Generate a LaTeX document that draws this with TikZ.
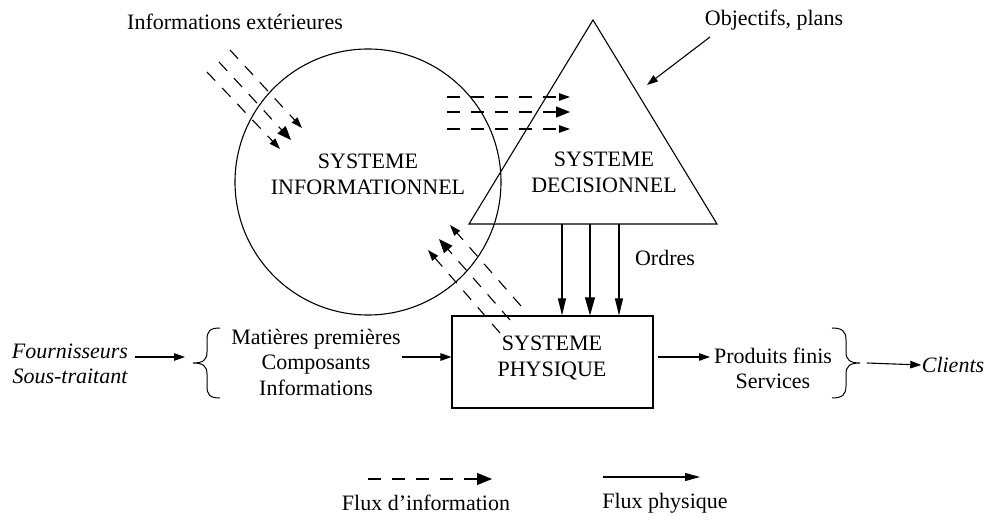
\documentclass[tikz,border=0pt]{standalone}
\usepackage{fontspec}
\setmainfont{Liberation Serif}
\usetikzlibrary{arrows.meta}
\begin{document}
\begin{tikzpicture}[x=1pt,y=-1pt,line width=1.1pt,
  txt/.style={font=\fontsize{22}{26}\selectfont,align=center,inner sep=0pt},
  itxt/.style={txt,font=\fontsize{22}{25}\selectfont\itshape},
  dashes/.style={dash pattern=on 13pt off 11pt},
  dashfine/.style={dash pattern=on 12pt off 10pt},
  tip/.style={-{Triangle[length=11pt,width=7.5pt]}},
  bigtip/.style={-{Triangle[length=14pt,width=11pt]}},
  ordtip/.style={-{Triangle[length=17pt,width=8pt]}},
  ordbigtip/.style={-{Triangle[length=18pt,width=10pt]}},
  brace/.style={line width=1pt}]
\useasboundingbox (0,0) rectangle (986,521);

% informational system
\node[draw,circle,minimum size=266pt,inner sep=0pt] (infocircle) at (368,182) {};
\node[txt] (infolbl) at (368,174) {SYSTEME\\INFORMATIONNEL};

% decision system
\coordinate (apex) at (593,20);
\coordinate (bl) at (469,224);
\coordinate (br) at (717,224);
\draw[line join=miter] (apex) -- (bl) -- (br) -- cycle;
\node[txt] (declbl) at (604,172) {SYSTEME\\DECISIONNEL};

% physical system
\node[draw,minimum width=201pt,minimum height=92pt,inner sep=0pt] (phys) at (552.5,362) {};
\node[txt] (physlbl) at (552,358) {SYSTEME\\PHYSIQUE};

% orders
\coordinate (o1) at (562,224);
\coordinate (o2) at (590,224);
\coordinate (o3) at (619,224);
\draw[ordtip] (o1) -- (o1 |- phys.north);
\draw[ordbigtip] (o2) -- (o2 |- phys.north);
\draw[ordtip] (o3) -- (o3 |- phys.north);
\node[txt] (ordres) at (665,258) {Ordres};

% objectives
\node[txt] (obj) at (774,20) {Objectifs, plans};
\coordinate (objs) at (710,37);
\coordinate (obje) at (647,85);
\draw[tip] (objs) -- (obje);

% external information
\node[txt] (ext) at (235,22) {Informations extérieures};
\coordinate (ea1) at (230,50);  \coordinate (eb1) at (302,128);
\coordinate (ea2) at (219,62);  \coordinate (eb2) at (291,140);
\coordinate (ea3) at (207,72);  \coordinate (eb3) at (280,149);
\draw[dashfine,tip] (ea1) -- (eb1);
\draw[dashfine,bigtip] (ea2) -- (eb2);
\draw[dashfine,tip] (ea3) -- (eb3);

% information towards decision
\coordinate (ha1) at (447,97);   \coordinate (hb1) at (570,97);
\coordinate (ha2) at (447,112);  \coordinate (hb2) at (570,112);
\coordinate (ha3) at (447,129);  \coordinate (hb3) at (570,129);
\draw[dashes,tip] (ha1) -- (hb1);
\draw[dashes,bigtip] (ha2) -- (hb2);
\draw[dashes,tip] (ha3) -- (hb3);

% feedback from physical system
\coordinate (fa1) at (521,306);  \coordinate (fb1) at (450,225);
\coordinate (fa2) at (510,320);  \coordinate (fb2) at (439,239);
\coordinate (fa3) at (500,333);  \coordinate (fb3) at (428,250);
\draw[dashfine,tip] (fa1) -- (fb1);
\draw[dashfine,bigtip] (fa2) -- (fb2);
\draw[dashfine,tip] (fa3) -- (fb3);

% inputs
\node[itxt] (fourn) at (70,364) {Fournisseurs\\Sous-traitant};
\coordinate (in1) at (135,357);
\coordinate (in2) at (185,357);
\draw[tip] (in1) -- (in2);
\draw[brace] (220,328) .. controls (210,328) and (207,331) .. (207,340) -- (207,352)
  .. controls (207,360) and (203,363) .. (193,363)
  .. controls (203,363) and (207,366) .. (207,374) -- (207,386)
  .. controls (207,395) and (210,398) .. (220,398);
\node[txt,font=\fontsize{22}{25.5}\selectfont] (inputs) at (316,362) {Matières premières\\Composants\\Informations};
\coordinate (in3) at (402,357);
\draw[tip] (in3) -- (in3 -| phys.west);

% outputs
\coordinate (out1) at (658,357);
\coordinate (out2) at (710,357);
\draw[tip] (out1) -- (out2);
\node[txt,font=\fontsize{22}{25}\selectfont] (outputs) at (773,368) {Produits finis\\Services};
\draw[brace] (832,328) .. controls (842,328) and (846,331) .. (846,340) -- (846,352)
  .. controls (846,360) and (850,363) .. (860,363)
  .. controls (850,363) and (846,366) .. (846,374) -- (846,386)
  .. controls (846,395) and (842,398) .. (832,398);
\coordinate (cl1) at (867,363);
\node[itxt] (clients) at (953,365) {Clients};
\draw[tip] (cl1) -- (clients.west);

% legend
\coordinate (la1) at (368,479);  \coordinate (lb1) at (492,479);
\draw[dashes,-{Triangle[length=15pt,width=12pt]}] (la1) -- (lb1);
\node[txt] (leginfo) at (426,503) {Flux d’information};
\coordinate (la2) at (603,477);  \coordinate (lb2) at (700,477);
\draw[-{Triangle[length=15pt,width=8pt]}] (la2) -- (lb2);
\node[txt] (legphys) at (665,503) {Flux physique};
\end{tikzpicture}
\end{document}
